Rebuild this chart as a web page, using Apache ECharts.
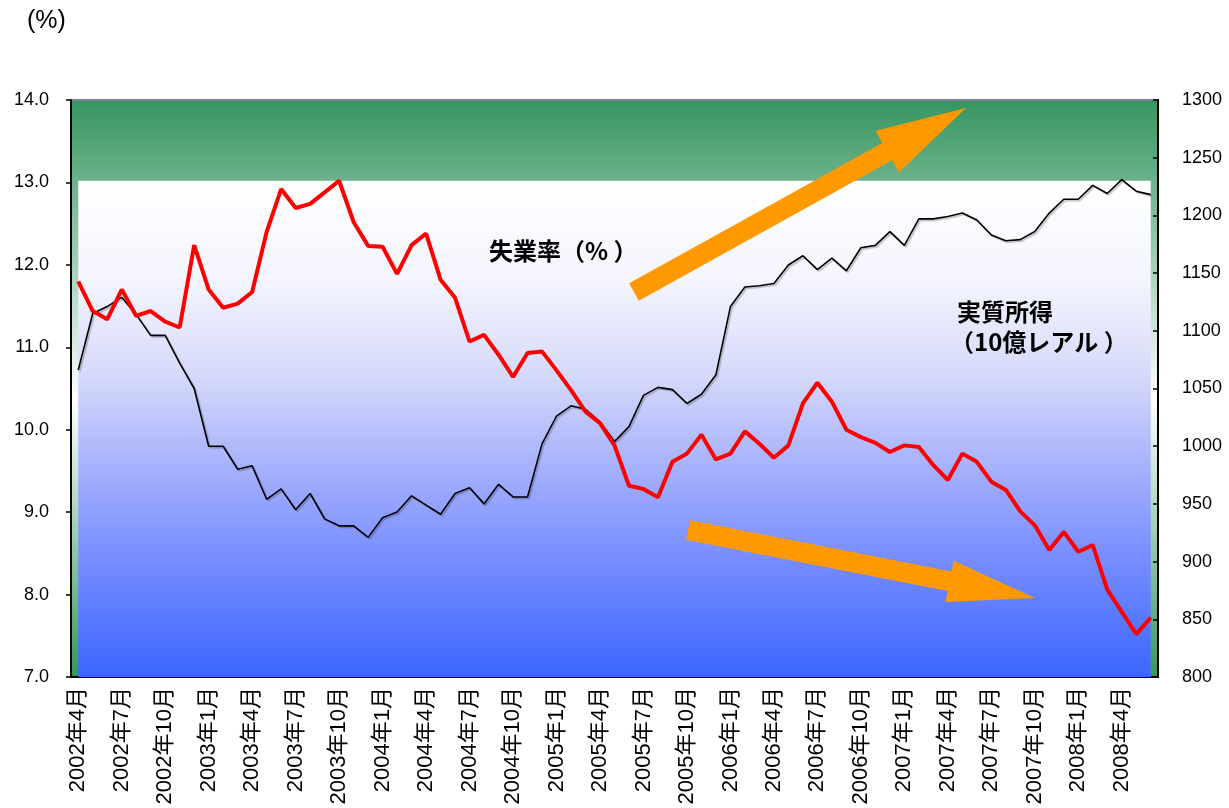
<!DOCTYPE html>
<html>
<head>
<meta charset="utf-8">
<script src="https://cdn.jsdelivr.net/npm/echarts@6/dist/echarts.min.js"></script>
<style>
html,body{margin:0;padding:0;background:#fff;}
#chart{width:1229px;height:808px;}
</style>
</head>
<body>
<div id="chart"></div>
<script>
// ---- DATA ----
const categories = [
 '2002年4月','2002年5月','2002年6月','2002年7月','2002年8月','2002年9月','2002年10月','2002年11月','2002年12月',
 '2003年1月','2003年2月','2003年3月','2003年4月','2003年5月','2003年6月','2003年7月','2003年8月','2003年9月','2003年10月','2003年11月','2003年12月',
 '2004年1月','2004年2月','2004年3月','2004年4月','2004年5月','2004年6月','2004年7月','2004年8月','2004年9月','2004年10月','2004年11月','2004年12月',
 '2005年1月','2005年2月','2005年3月','2005年4月','2005年5月','2005年6月','2005年7月','2005年8月','2005年9月','2005年10月','2005年11月','2005年12月',
 '2006年1月','2006年2月','2006年3月','2006年4月','2006年5月','2006年6月','2006年7月','2006年8月','2006年9月','2006年10月','2006年11月','2006年12月',
 '2007年1月','2007年2月','2007年3月','2007年4月','2007年5月','2007年6月','2007年7月','2007年8月','2007年9月','2007年10月','2007年11月','2007年12月',
 '2008年1月','2008年2月','2008年3月','2008年4月','2008年5月','2008年6月'
];
// 失業率 (%), left axis
const unemployment = [
 11.80,11.44,11.34,11.70,11.38,11.44,11.31,11.24,12.24,11.70,
 11.48,11.53,11.67,12.40,12.92,12.69,12.74,12.88,13.02,12.52,
 12.23,12.22,11.89,12.24,12.38,11.82,11.60,11.07,11.15,10.91,
 10.64,10.93,10.95,10.72,10.48,10.22,10.08,9.81,9.32,9.28,
 9.18,9.61,9.71,9.94,9.64,9.71,9.98,9.83,9.66,9.81,
 10.32,10.57,10.34,10.00,9.91,9.84,9.73,9.81,9.79,9.57,
 9.39,9.71,9.61,9.37,9.27,9.01,8.84,8.54,8.76,8.52,
 8.60,8.06,7.79,7.52,7.72
];
// 実質所得 (10億レアル), right axis
const realIncome = [
 1066,1115,1121,1129,1114,1096,1096,1072,1050,1000,
 1000,980,983,954,963,945,959,937,931,931,
 921,938,943,957,949,941,959,964,950,967,
 956,956,1002,1026,1035,1032,1021,1004,1017,1044,
 1051,1049,1037,1045,1062,1121,1138,1139,1141,1157,
 1165,1153,1163,1152,1172,1174,1186,1174,1197,1197,
 1199,1202,1196,1183,1178,1179,1186,1202,1214,1214,
 1226,1219,1231,1221,1218
];
const leftAxis = {min: 7, max: 14, interval: 1};
const rightAxis = {min: 800, max: 1300, interval: 50};
const innerTop = 13.02; // top of the inner white-blue panel (left-axis units)

// ---- CHART ----
const FONT = '"Liberation Sans", "Noto Sans CJK JP", sans-serif';
const JP = '"Noto Sans CJK JP", sans-serif';
const chart = echarts.init(document.getElementById('chart'), null, {renderer: 'canvas'});

function arrow(sx, sy, tx, ty, hw, hl, hhw) {
  const dx = tx - sx, dy = ty - sy, L = Math.hypot(dx, dy);
  const ux = dx / L, uy = dy / L, nx = -uy, ny = ux;
  const bx = tx - ux * hl, by = ty - uy * hl;
  return [
    [sx + nx * hw, sy + ny * hw], [bx + nx * hw, by + ny * hw], [bx + nx * hhw, by + ny * hhw],
    [tx, ty],
    [bx - nx * hhw, by - ny * hhw], [bx - nx * hw, by - ny * hw], [sx - nx * hw, sy - ny * hw]
  ];
}

const option = {
  animation: false,
  textStyle: {fontFamily: FONT},
  grid: {
    left: 71, right: 71, top: 100, bottom: 131, show: true,
    backgroundColor: new echarts.graphic.LinearGradient(0, 0, 0, 1, [
      {offset: 0, color: '#35955f'},
      {offset: 0.52, color: '#ffffff'},
      {offset: 1, color: '#35955f'}
    ]),
    borderColor: '#7d809c', borderWidth: 2
  },
  xAxis: {
    type: 'category', data: categories, boundaryGap: true,
    axisLine: {lineStyle: {color: '#000', width: 2}},
    axisTick: {show: true, inside: true, length: 5, interval: 2, lineStyle: {color: '#000', width: 1.5}},
    axisLabel: {interval: 2, rotate: 90, fontSize: 22, color: '#000', margin: 10, fontFamily: FONT},
    splitLine: {show: false}
  },
  yAxis: [
    {
      type: 'value', position: 'left', min: leftAxis.min, max: leftAxis.max, interval: leftAxis.interval,
      axisLine: {show: true, lineStyle: {color: '#000', width: 2}},
      axisTick: {show: true, length: 5, lineStyle: {color: '#000', width: 1.5}},
      axisLabel: {formatter: v => v.toFixed(1), fontSize: 18, color: '#000', margin: 22, fontFamily: FONT},
      splitLine: {show: false}
    },
    {
      type: 'value', position: 'right', min: rightAxis.min, max: rightAxis.max, interval: rightAxis.interval,
      axisLine: {show: true, lineStyle: {color: '#000', width: 2}},
      axisTick: {show: true, inside: true, length: 5, lineStyle: {color: '#000', width: 1.5}},
      axisLabel: {formatter: v => String(v), fontSize: 18, color: '#000', margin: 24, fontFamily: FONT},
      splitLine: {show: false}
    }
  ],
  series: [
    {
      name: '実質所得', type: 'line', yAxisIndex: 1, data: realIncome, symbol: 'none', z: 3,
      lineStyle: {color: '#000', width: 1.6, shadowColor: 'rgba(0,0,0,0.25)', shadowOffsetX: 1.5, shadowOffsetY: 1.5, shadowBlur: 1}
    },
    {
      name: '失業率', type: 'line', yAxisIndex: 0, data: unemployment, symbol: 'none', z: 4,
      lineStyle: {color: '#ff0000', width: 4},
      markArea: {
        silent: true,
        itemStyle: {
          color: new echarts.graphic.LinearGradient(0, 0, 0, 1, [
            {offset: 0, color: '#ffffff'},
            {offset: 0.2, color: '#f4f5fe'},
            {offset: 0.39, color: '#d6dafa'},
            {offset: 0.52, color: '#b4bdfb'},
            {offset: 0.75, color: '#7a8fff'},
            {offset: 1, color: '#3b66ff'}
          ])
        },
        data: [[{xAxis: 0, yAxis: leftAxis.min}, {xAxis: categories.length - 1, yAxis: innerTop}]]
      }
    }
  ],
  graphic: [
    {type: 'text', x: 27, y: 21, style: {text: '(%)', fontSize: 25, fontFamily: FONT, fill: '#000', verticalAlign: 'middle'}},
    {type: 'text', x: 489, y: 251, z: 20, style: {text: '失業率（% ）', fontSize: 24, fontWeight: 'bold', fontFamily: JP, fill: '#000', verticalAlign: 'middle'}},
    {type: 'text', x: 957, y: 312, z: 20, style: {text: '実質所得', fontSize: 24, fontWeight: 'bold', fontFamily: JP, fill: '#000', verticalAlign: 'middle'}},
    {type: 'text', x: 950, y: 342, z: 20, style: {text: '（10億レアル ）', fontSize: 24, fontWeight: 'bold', fontFamily: JP, fill: '#000', verticalAlign: 'middle'}},
    {type: 'polygon', z: 20, shape: {points: arrow(634, 292, 966, 108, 10, 90, 24)}, style: {fill: '#ff9900'}},
    {type: 'polygon', z: 20, shape: {points: arrow(688, 530, 1035, 598, 10, 87, 21)}, style: {fill: '#ff9900'}}
  ]
};
chart.setOption(option);
</script>
</body>
</html>
